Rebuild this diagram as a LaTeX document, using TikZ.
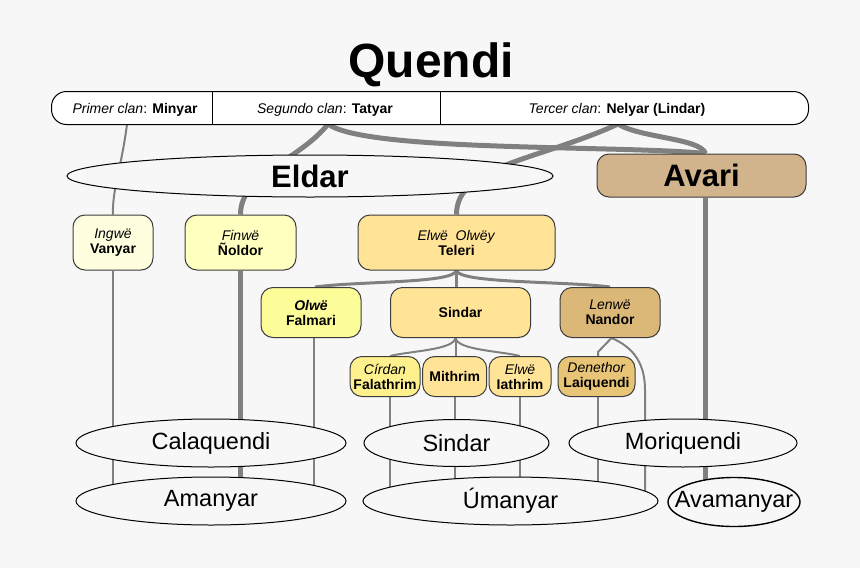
\documentclass[tikz,border=0pt]{standalone}
\usepackage{fontspec}
\setmainfont{Liberation Sans}
\usetikzlibrary{shapes.geometric}
\pgfdeclarelayer{back}
\pgfdeclarelayer{bg}
\pgfsetlayers{back,bg,main}
\definecolor{bgc}{HTML}{F7F7F7}
\definecolor{lnc}{HTML}{808080}
\definecolor{boxline}{HTML}{3C3C3C}
\definecolor{cVanyar}{HTML}{FFFFE0}
\definecolor{cNoldor}{HTML}{FFFFC0}
\definecolor{cTeleri}{HTML}{FFE396}
\definecolor{cFalmari}{HTML}{FCFC99}
\definecolor{cNandor}{HTML}{DBB877}
\definecolor{cFalathrim}{HTML}{FFF08E}
\definecolor{cLaiq}{HTML}{E8C476}
\definecolor{cAvari}{HTML}{D2B48C}
\begin{document}
\begin{tikzpicture}[x=1pt,y=-1pt,
  box/.style={draw=boxline, line width=1pt, rounded corners=12pt, inner sep=0pt,
    align=center, font=\fontsize{14}{15}\selectfont},
  oval/.style={ellipse, draw=black, line width=1pt, fill=bgc, inner sep=0pt},
  ovaltext/.style={font=\fontsize{23.5}{25}\selectfont, inner sep=0pt},
  bigtext/.style={font=\fontsize{31}{33}\selectfont\bfseries, inner sep=0pt},
  clan/.style={font=\fontsize{14}{15}\selectfont, inner sep=0pt},
  thinln/.style={draw=lnc, line width=2pt},
  midln/.style={draw=lnc, line width=3pt},
  thickln/.style={draw=lnc, line width=5pt},
]
\begin{pgfonlayer}{back}
\fill[bgc] (0,0) rectangle (860,568);
\end{pgfonlayer}
\useasboundingbox (0,0) rectangle (860,568);

% title
\node[anchor=base, inner sep=0pt, font=\fontsize{48}{50}\selectfont\bfseries] (title) at (431,77) {Quendi};

% clan bar
\node[draw=black, fill=white, line width=1pt, rounded corners=15pt, minimum width=757pt,
  minimum height=33pt, inner sep=0pt] (bar) at (430,108) {};
\draw[black, line width=1pt] (212.5,91.5) -- (212.5,124.5);
\draw[black, line width=1pt] (440.5,91.5) -- (440.5,124.5);
\node[clan, anchor=base] (minyar) at (135,113) {\textit{Primer clan}: \textbf{Minyar}};
\node[clan, anchor=base] (tatyar) at (325,113) {\textit{Segundo clan}: \textbf{Tatyar}};
\node[clan, anchor=base] (nelyar) at (617,113) {\textit{Tercer clan}: \textbf{Nelyar (Lindar)}};
\coordinate (oM) at (127,124);
\coordinate (oT) at (328,124);
\coordinate (oN) at (618,124);

% Eldar and Avari
\node[oval, minimum width=486pt, minimum height=42pt, label={[bigtext]center:Eldar}] (eldar) at (310,176) {};
\node[box, fill=cAvari, minimum width=209pt, minimum height=43pt, font=\fontsize{31}{33}\selectfont\bfseries] (avari) at (701.5,175.5) {Avari};

% clan boxes
\node[box, fill=cVanyar, minimum width=80pt, minimum height=55pt] (vanyar) at (113,242.5) {\textit{Ingwë}\\\textbf{Vanyar}};
\node[box, fill=cNoldor, minimum width=111pt, minimum height=55pt] (noldor) at (240.5,242.5) {\textit{Finwë}\\\textbf{Ñoldor}};
\node[box, fill=cTeleri, minimum width=197pt, minimum height=55pt] (teleri) at (456.5,242.5) {\textit{Elwë\ \ Olwëy}\\\textbf{Teleri}};
\node[box, fill=cFalmari, minimum width=100pt, minimum height=50pt] (falmari) at (311,312.5) {\textbf{\textit{Olwë}}\\\textbf{Falmari}};
\node[box, fill=cTeleri, minimum width=140pt, minimum height=50pt] (sindarbox) at (460.5,312.5) {\textbf{Sindar}};
\node[box, fill=cNandor, minimum width=100pt, minimum height=50pt] (nandor) at (610,312.5) {\textit{Lenwë}\\\textbf{Nandor}};
\node[box, fill=cFalathrim, minimum width=70pt, minimum height=40pt] (falathrim) at (385,376.5) {\textit{Círdan}\\\textbf{Falathrim}};
\node[box, fill=cTeleri, minimum width=64pt, minimum height=40pt] (mithrim) at (454.7,376.5) {\textbf{Mithrim}};
\node[box, fill=cTeleri, minimum width=62pt, minimum height=40pt] (iathrim) at (520,376.5) {\textit{Elwë}\\\textbf{Iathrim}};
\node[box, fill=cLaiq, minimum width=77pt, minimum height=40pt] (laiquendi) at (596.5,376.5) {\textit{Denethor}\\\textbf{Laiquendi}};

% lower ellipses
\node[oval, minimum width=270pt, minimum height=48pt, label={[ovaltext]center:Calaquendi}] (calaquendi) at (211,443) {};
\node[oval, minimum width=270pt, minimum height=48pt, label={[ovaltext]center:Amanyar}] (amanyar) at (211,501) {};
\node[oval, minimum width=185pt, minimum height=47pt, label={[ovaltext]center:Sindar}] (sindar) at (456.5,443) {};
\node[oval, minimum width=295pt, minimum height=48pt, label={[ovaltext]center:Úmanyar}] (umanyar) at (510.5,501) {};
\node[oval, minimum width=228pt, minimum height=48pt, label={[ovaltext]center:Moriquendi}] (moriquendi) at (683,443) {};
\node[oval, line width=1.4pt, minimum width=132pt, minimum height=49pt, label={[ovaltext]center:Avamanyar}] (avamanyar) at (734,502) {};

% connectors
\begin{pgfonlayer}{bg}
\coordinate (avT) at ([xshift=4pt]avari.north);
\coordinate (avB) at ([xshift=4pt]avari.south);
\draw[thinln] (oM) .. controls (122,165) and (112,190) .. (vanyar.north);
\draw[thickln] (oT) .. controls (300,160) and (240,175) .. (noldor.north);
\draw[thickln] (oT) .. controls (365,152) and (620,145) .. (avT);
\draw[thickln] (oN) .. controls (540,160) and (456.5,165) .. (teleri.north);
\draw[thickln] (oN) .. controls (640,138) and (700,138) .. (avT);
\draw[thickln] (avB) -- (avB |- avamanyar.center);

\draw[thinln] (vanyar.south) -- (vanyar.south |- amanyar.center);
\draw[thickln] (noldor.south) -- (noldor.south |- amanyar.center);

\coordinate (fmT) at ([xshift=4pt]falmari.north);
\coordinate (fmB) at ([xshift=3pt]falmari.south);
\draw[midln] (teleri.south) .. controls +(-3,13) and +(45,-6) .. (fmT);
\draw[midln] (teleri.south) -- (teleri.south |- sindarbox.north);
\draw[midln] (teleri.south) .. controls +(3,13) and +(-45,-6) .. (nandor.north);
\draw[thinln] (fmB) -- (fmB |- amanyar.center);

\coordinate (sb) at ([xshift=-5pt]sindarbox.south);
\coordinate (ftT) at ([xshift=5pt]falathrim.north);
\coordinate (ftB) at ([xshift=5pt]falathrim.south);
\draw[thinln] (sb) .. controls +(-2,12) and +(20,-5) .. (ftT);
\draw[thinln] (sb) -- (sb |- mithrim.north);
\draw[thinln] (sb) .. controls +(2,12) and +(-20,-5) .. (iathrim.north);
\draw[thinln] (ftB) -- (ftB |- umanyar.center);
\draw[thinln] (mithrim.south) -- (mithrim.south |- umanyar.center);
\draw[thinln] (iathrim.south) -- (iathrim.south |- umanyar.center);

\coordinate (nb) at ([xshift=1.5pt]nandor.south);
\coordinate (lqT) at ([xshift=1.5pt]laiquendi.north);
\coordinate (lqB) at ([xshift=1.5pt]laiquendi.south);
\coordinate (nr) at (645,390);
\draw[thinln] (nb) -- ([yshift=4pt]lqT) -- (lqT);
\draw[thinln] (nb) .. controls (635,348) and (645,365) .. (nr) -- (nr |- umanyar.center);
\draw[thinln] (lqB) -- (lqB |- umanyar.center);
\end{pgfonlayer}
\end{tikzpicture}
\end{document}
